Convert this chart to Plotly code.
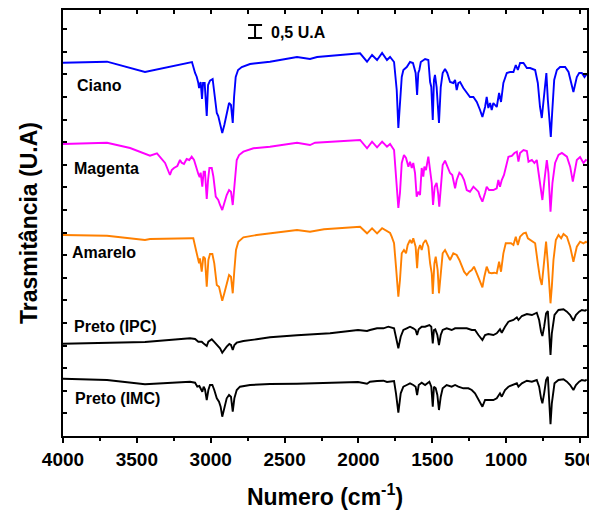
import plotly.graph_objects as go

# Transmittance in arbitrary units (13 units = 0.5 U.A), vs wavenumber (cm-1)
wn_ciano = [4000, 3702, 3445, 3127, 3106, 3095, 3084, 3079, 3068, 3059,
            3052, 3041, 3027, 3018, 3005, 2987, 2978, 2959, 2949, 2937,
            2922, 2908, 2892, 2876, 2863, 2851, 2842, 2831, 2815, 2790,
            2734, 2599, 2416, 2328, 2280, 1989, 1942, 1908, 1874, 1840,
            1807, 1786, 1759, 1741, 1730, 1719, 1707, 1696, 1673, 1651,
            1631, 1613, 1603, 1595, 1588, 1578, 1549, 1527, 1515, 1507,
            1497, 1489, 1482, 1471, 1455, 1443, 1430, 1414, 1399, 1380,
            1358, 1346, 1335, 1324, 1312, 1290, 1267, 1245, 1222, 1199,
            1177, 1161, 1143, 1132, 1121, 1109, 1098, 1087, 1064, 1048,
            1035, 1019, 996, 974, 951, 935, 921, 906, 883, 860,
            838, 804, 786, 771, 759, 748, 737, 728, 718, 707,
            698, 689, 675, 657, 635, 601, 578, 545, 522, 506,
            488, 470, 455]
t_ciano = [377.3, 378.3, 368, 378, 367, 363.3, 357, 352, 358, 341,
           357, 357, 324, 355, 359.3, 361, 350, 327, 324, 315,
           307, 315, 328, 337, 335, 317, 343, 363, 370, 373,
           376, 378.3, 383, 381, 383, 386.7, 378.3, 385, 380, 387,
           380, 383, 378, 350, 312, 333, 363, 370, 373, 378,
           377, 367, 345, 367, 370, 378, 381, 380, 358, 353,
           320, 360, 365, 353, 317, 353, 367, 371, 367, 358,
           357, 360, 350, 357, 358, 352, 347, 343, 343, 338,
           330, 323, 333, 343, 332, 337, 330, 337, 333, 347,
           338, 357, 367, 368, 368, 375, 370, 377, 377, 372,
           372, 370, 357, 333, 322, 340, 350, 367, 340, 323,
           303, 327, 360, 370, 373, 373, 368, 348, 363, 367,
           367, 363, 366]

wn_magenta = [4000, 3702, 3546, 3445, 3411, 3364, 3343, 3309, 3276, 3264,
              3249, 3226, 3208, 3197, 3181, 3163, 3145, 3129, 3113, 3100,
              3084, 3075, 3068, 3057, 3048, 3039, 3027, 3018, 3009, 2993,
              2982, 2966, 2949, 2937, 2922, 2908, 2892, 2876, 2863, 2851,
              2840, 2824, 2808, 2779, 2711, 2599, 2416, 2328, 2294, 1989,
              1942, 1908, 1874, 1840, 1807, 1786, 1759, 1746, 1730, 1719,
              1707, 1692, 1678, 1662, 1651, 1639, 1629, 1617, 1606, 1595,
              1583, 1572, 1561, 1554, 1543, 1527, 1515, 1504, 1495, 1484,
              1471, 1461, 1453, 1441, 1430, 1414, 1399, 1380, 1365, 1346,
              1335, 1317, 1301, 1285, 1267, 1245, 1222, 1199, 1188, 1177,
              1161, 1143, 1132, 1116, 1087, 1064, 1053, 1042, 1030, 1015,
              1003, 985, 962, 944, 928, 917, 906, 883, 860, 849,
              826, 809, 793, 777, 766, 755, 741, 725, 714, 700,
              687, 669, 646, 623, 589, 567, 549, 538, 522, 500,
              477, 461, 455]
t_magenta = [296, 297.3, 292, 286, 284.3, 286.7, 283.3, 277, 265, 270,
             272, 274, 280, 277.3, 276, 281, 280, 283.3, 280, 273,
             266, 263, 267.3, 253.3, 268.3, 268.3, 241, 260, 272, 272,
             263.3, 243.3, 240, 235, 230, 237, 245, 250, 248.3, 235,
             253.3, 280, 285, 288.3, 291.7, 293.3, 297.3, 295, 297.3, 300,
             291.7, 298.3, 292.7, 298.3, 293.3, 296, 290, 260, 232, 247,
             277, 285, 282, 273.3, 278.3, 272, 277, 267, 243.3, 248.3,
             245, 272, 263.3, 273.3, 270, 283.3, 267, 257, 235, 253.3,
             257, 247, 233.3, 253.3, 275, 279.3, 273.3, 267, 265, 251.7,
             260, 267.3, 265, 260, 250, 248.3, 253.3, 250, 248.3, 243.3,
             238.3, 247, 253.3, 250, 250, 251.7, 260, 253.3, 260, 265,
             273.3, 283.3, 284, 287, 288.3, 278.3, 287, 290, 289, 278.3,
             280, 277, 280, 263.3, 247, 240, 260, 280, 267, 228.3,
             257, 277, 285, 287, 283.3, 273.3, 258.3, 267, 280, 283,
             277, 280, 279.3]

wn_amarelo = [4000, 3702, 3445, 3411, 3127, 3118, 3100, 3088, 3079, 3073,
              3061, 3050, 3039, 3027, 3016, 3005, 2989, 2976, 2959, 2944,
              2933, 2922, 2908, 2892, 2876, 2863, 2851, 2840, 2829, 2813,
              2779, 2689, 2599, 2416, 2328, 2233, 1989, 1942, 1908, 1874,
              1840, 1807, 1786, 1775, 1759, 1746, 1730, 1719, 1707, 1692,
              1678, 1667, 1651, 1639, 1629, 1613, 1603, 1595, 1583, 1572,
              1561, 1545, 1527, 1515, 1504, 1497, 1486, 1477, 1464, 1455,
              1443, 1430, 1414, 1399, 1380, 1358, 1335, 1317, 1301, 1285,
              1267, 1249, 1233, 1218, 1199, 1182, 1161, 1148, 1132, 1116,
              1098, 1080, 1064, 1048, 1035, 1019, 1003, 985, 967, 951,
              935, 921, 906, 883, 867, 853, 838, 804, 786, 771,
              759, 748, 737, 730, 718, 709, 700, 691, 680, 664,
              646, 628, 612, 589, 567, 545, 522, 500, 477, 461,
              455]
t_amarelo = [205, 204.3, 200, 201, 201.7, 201.7, 190, 183.3, 176.7, 181.7,
             168.3, 183.3, 181.7, 153.3, 180, 186, 186, 176.7, 155, 153.3,
             145, 139.3, 146.7, 156.7, 165, 163.3, 146.7, 170, 190, 198.3,
             202.7, 205, 206.7, 210, 208.3, 210.7, 213.3, 206.7, 211.7, 206.7,
             211.7, 208.3, 207, 203.3, 196.7, 173.3, 143.3, 160, 186.7, 190,
             186.7, 195, 200, 196.7, 201.7, 193.3, 171.7, 190, 195, 190,
             196.7, 200, 193.3, 176.7, 166.7, 146, 176.7, 183.3, 170, 146.7,
             170, 186.7, 190, 185, 180, 186.7, 185, 180, 175, 168.3,
             165, 168.3, 170, 173.3, 166.7, 160, 152.7, 163.3, 173.3, 167.3,
             166.7, 167.3, 166.7, 178.3, 168.3, 186.7, 196.7, 196.7, 196.7, 195,
             203.3, 195, 203.3, 206.7, 207.3, 201.7, 200, 196.7, 176.7, 161.7,
             155, 170, 190, 198.3, 176.7, 150, 136.7, 153.3, 180, 200,
             205, 201.7, 206, 203.3, 193.3, 178.3, 193.3, 198.3, 196.7, 198.3,
             197]

wn_ipc = [4000, 3445, 3140, 3106, 3084, 3061, 3050, 3039, 3027, 3016,
          2993, 2978, 2959, 2937, 2922, 2908, 2892, 2874, 2863, 2851,
          2840, 2824, 2779, 2689, 2599, 2416, 2192, 2003, 1942, 1922,
          1874, 1831, 1798, 1759, 1746, 1730, 1714, 1696, 1673, 1651,
          1629, 1613, 1603, 1592, 1572, 1549, 1520, 1507, 1497, 1489,
          1480, 1466, 1455, 1443, 1430, 1403, 1369, 1346, 1312, 1267,
          1233, 1211, 1188, 1161, 1143, 1121, 1087, 1064, 1042, 1030,
          1008, 985, 951, 928, 917, 894, 860, 826, 793, 777,
          764, 755, 743, 730, 718, 709, 700, 691, 673, 646,
          612, 589, 567, 545, 528, 506, 488, 466, 455]
t_ipc = [96.3, 98, 101.7, 101, 98.3, 98.3, 96.7, 95, 94, 98.3,
         100.7, 98.3, 95, 91.7, 87.3, 90.7, 93.3, 96, 95, 90,
         95, 97.3, 99, 100.7, 102.7, 104.7, 106.7, 110, 109, 110,
         111.7, 111.7, 113.3, 111.7, 103.3, 91.7, 103.3, 110, 111.7, 113.3,
         111.7, 110, 105, 110.7, 113.3, 113.3, 115, 113.3, 96.7, 110,
         110.7, 105, 95, 105, 110, 111.7, 110, 111.7, 111.7, 111.7,
         110, 110, 105, 100, 105, 106, 105, 106.7, 110.7, 107.3,
         113.3, 118.3, 120, 122.7, 120, 124, 126, 125, 127.3, 120,
         108.3, 104, 113.3, 126.7, 129, 110, 85, 106.7, 125, 130,
         130.7, 128.3, 125, 119.3, 125, 128.3, 130, 129.3, 130.5]

wn_imc = [4000, 3702, 3445, 3140, 3106, 3091, 3077, 3066, 3057, 3048,
          3039, 3027, 3016, 3005, 2989, 2976, 2959, 2944, 2933, 2922,
          2908, 2892, 2876, 2863, 2851, 2840, 2824, 2802, 2734, 2599,
          2416, 2192, 2003, 1942, 1922, 1874, 1831, 1807, 1759, 1746,
          1730, 1714, 1696, 1673, 1651, 1629, 1613, 1603, 1592, 1572,
          1549, 1520, 1507, 1497, 1489, 1477, 1466, 1455, 1443, 1430,
          1403, 1369, 1346, 1324, 1290, 1256, 1233, 1211, 1188, 1161,
          1143, 1121, 1087, 1064, 1042, 1030, 1008, 985, 951, 928,
          917, 894, 860, 826, 793, 777, 764, 755, 743, 730,
          718, 709, 700, 691, 673, 646, 612, 589, 567, 545,
          528, 506, 488, 466, 455]
t_imc = [61.3, 60, 55.7, 58.3, 57.3, 53.3, 54, 50, 48.3, 53.3,
         50.7, 40, 50, 55, 55, 50, 41.7, 38.3, 33.3, 23.3,
         31.7, 41.7, 45, 43.3, 28.3, 41.7, 50, 53.3, 55, 56,
         56.3, 57.3, 58, 56.3, 58.3, 59, 59.3, 58, 59, 46.7,
         27.3, 46.7, 53.3, 55, 56.7, 55, 53.3, 45, 55, 57.3,
         55, 58.3, 53.3, 33.3, 53.3, 51.7, 45, 30, 43.3, 51.7,
         55, 53.3, 55, 53.3, 51.7, 51.7, 50, 46.7, 40, 33.3,
         40, 40, 40, 41.7, 46.7, 43.3, 50, 53.3, 55, 56.7,
         53.3, 56.7, 59.3, 58.3, 60, 53.3, 41.7, 36.7, 46.7, 60,
         63.3, 43.3, 15.7, 36.7, 56.7, 60, 60.7, 58.3, 55, 50,
         55, 58.3, 60, 59.3, 60.5]

series = [
    ("Ciano", wn_ciano, t_ciano, "#0000FF"),
    ("Magenta", wn_magenta, t_magenta, "#FF00FF"),
    ("Amarelo", wn_amarelo, t_amarelo, "#FF8000"),
    ("Preto (IPC)", wn_ipc, t_ipc, "#000000"),
    ("Preto (IMC)", wn_imc, t_imc, "#000000"),
]
labels = ["Ciano", "Magenta", "Amarelo", "Preto (IPC)", "Preto (IMC)"]
label_x = [3919, 3939, 3953, 3939, 3932]
label_y = [355, 272, 188, 114, 42]

scale_bar_x = [2700]
scale_bar_y = [408.5]
scale_bar_half = [6.5]   # 0.5 U.A = 13 units

FONT = "Liberation Sans, Arial, sans-serif"

fig = go.Figure()
for name, x, y, c in series:
    assert len(x) == len(y), name
    fig.add_trace(go.Scatter(x=x, y=y, mode="lines", name=name,
                             line=dict(color=c, width=1.9), showlegend=False))

# scale bar (also carries the top mirrored axis)
fig.add_trace(go.Scatter(x=scale_bar_x, y=scale_bar_y, xaxis="x2", mode="markers",
                         marker=dict(size=1, color="black"), showlegend=False,
                         error_y=dict(type="data", array=scale_bar_half, visible=True,
                                      color="black", thickness=2, width=7)))

for t, x, y in zip(labels, label_x, label_y):
    fig.add_annotation(x=x, y=y, text=t, showarrow=False, xanchor="left", yanchor="middle",
                       font=dict(family=FONT, size=16, color="black", weight="bold"))
fig.add_annotation(x=2605, y=408, text="0,5 U.A", showarrow=False, xanchor="left",
                   yanchor="middle", font=dict(family=FONT, size=16, color="black", weight="bold"))

# page body has an 8px default margin: size the figure to fit the 597x512 window
fig.update_layout(
    width=589, height=504,
    margin=dict(l=55, r=10, t=2, b=76),
    paper_bgcolor="white", plot_bgcolor="white",
    font=dict(family=FONT, color="black"),
    xaxis=dict(range=[4000, 453], tick0=500, dtick=500, ticks="outside", ticklen=5,
               tickwidth=1.5, tickcolor="black", automargin=False, ticklabeloverflow="allow",
               minor=dict(dtick=250, ticks="outside", ticklen=3, tickwidth=1.5, tickcolor="black"),
               showline=True, linecolor="black", linewidth=1.5, mirror=True,
               showgrid=False, zeroline=False,
               tickfont=dict(family=FONT, size=19, color="black", weight="bold"),
               title=dict(text="Numero (cm<sup>-1</sup>)", standoff=20,
                          font=dict(family=FONT, size=23, color="black", weight="bold"))),
    xaxis2=dict(range=[4000, 453], overlaying="x", side="top", tick0=500, dtick=250,
                ticks="inside", ticklen=4, tickwidth=1.5, tickcolor="black", automargin=False,
                showticklabels=False, showline=False, showgrid=False, zeroline=False),
    yaxis=dict(range=[4, 430], tick0=4, dtick=22.6, ticks="inside", ticklen=4,
               tickwidth=1.5, tickcolor="black", showticklabels=False, automargin=False,
               showline=True, linecolor="black", linewidth=1.5, mirror="ticks",
               showgrid=False, zeroline=False,
               title=dict(text="Trasmitância (U.A)", standoff=17,
                          font=dict(family=FONT, size=23, color="black", weight="bold"))),
)

fig.write_html("out.html")
